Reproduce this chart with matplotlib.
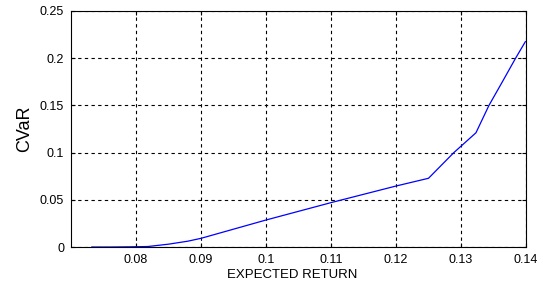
import matplotlib
matplotlib.use('Agg')
import matplotlib.pyplot as plt
from matplotlib.ticker import FuncFormatter

# efficient frontier
expected_return = [0.0732, 0.0760, 0.0790, 0.0818, 0.0850, 0.0880, 0.0900, 0.1000,
                   0.1100, 0.1200, 0.1250, 0.1289, 0.1323, 0.1343, 0.1362, 0.1384, 0.1399]
cvar = [0.0, 0.0, 0.0002, 0.0005, 0.003, 0.0062, 0.0092, 0.0286,
        0.047, 0.0646, 0.0728, 0.1, 0.121, 0.15, 0.173, 0.2, 0.2175]

x_ticks = [0.08, 0.09, 0.1, 0.11, 0.12, 0.13, 0.14]
y_ticks = [0, 0.05, 0.1, 0.15, 0.2, 0.25]

plt.rcParams['font.family'] = ['Liberation Sans', 'DejaVu Sans']

fig = plt.figure(figsize=(5.43, 2.89), dpi=100)
ax = fig.add_axes([0.1308, 0.1453, 0.9687 - 0.1308, 0.962 - 0.1453])

ax.plot(expected_return, cvar, color='#0000ff', linewidth=0.9)

ax.set_xlim(0.07, 0.14)
ax.set_ylim(0, 0.25)
ax.set_xticks(x_ticks)
ax.set_yticks(y_ticks)
ax.xaxis.set_major_formatter(FuncFormatter(lambda v, p: '%g' % round(v, 4)))
ax.yaxis.set_major_formatter(FuncFormatter(lambda v, p: '%g' % round(v, 4)))
ax.grid(True, color='black', linestyle=(0, (3, 3)), linewidth=0.8)
ax.tick_params(direction='in', top=True, right=True, length=3, labelsize=9, pad=5)
for s in ax.spines.values():
    s.set_linewidth(0.8)

ax.set_xlabel('EXPECTED RETURN', fontsize=9.5, labelpad=2)
ax.xaxis.set_label_coords(0.485, -0.095)
ax.set_ylabel('CVaR', fontsize=13, labelpad=5)

fig.savefig('out.png', dpi=100)
